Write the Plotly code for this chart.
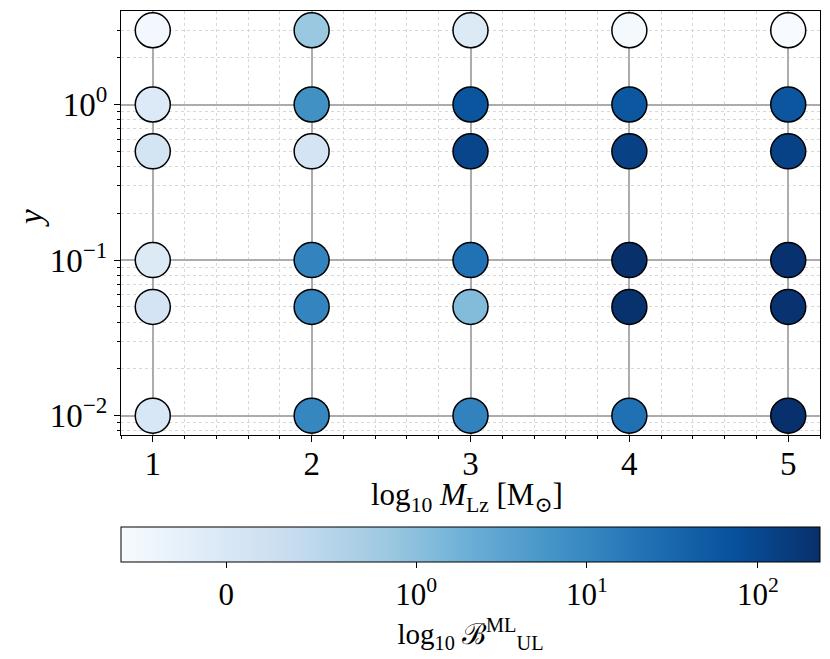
import numpy as np
import plotly.graph_objects as go

# grid of the scan
m_lz = [1, 2, 3, 4, 5]
y_vals = [0.01, 0.05, 0.1, 0.5, 1, 3]

# log10 Bayes factor per column of m_lz, ordered like y_vals
bayes = {
    1: [0.03, 0.10, -0.06, 0.12, -0.05, -0.48],
    2: [10.5, 11.0, 11.5, 0.10, 7.1, 0.86],
    3: [12.1, 1.19, 22.0, 110.0, 62.0, -0.06],
    4: [23.0, 213.0, 231.0, 128.0, 58.0, -0.50],
    5: [228.0, 205.0, 212.0, 121.0, 60.0, -0.554],
}

cbar_tick_vals = [0, 1, 10, 100]
cbar_tick_text = ["0", "10<sup>0</sup>", "10<sup>1</sup>", "10<sup>2</sup>"]
y_tick_vals = [0.01, 0.1, 1]
y_tick_text = ["10<sup>\u22122</sup>", "10<sup>\u22121</sup>", "10<sup>0</sup>"]

# matplotlib Blues
blues = ["#f7fbff", "#deebf7", "#c6dbef", "#9ecae1", "#6baed6",
         "#4292c6", "#2171b5", "#08519c", "#08306b"]
colorscale = [[i / (len(blues) - 1), c] for i, c in enumerate(blues)]


def symlog(v, linthresh=1.0, linscale=1.0):
    """Same mapping as matplotlib's SymLogNorm (base 10)."""
    v = np.asarray(v, dtype=float)
    lin_adj = linscale / (1.0 - 0.1)
    a = np.abs(v)
    out = np.where(a <= linthresh, v * lin_adj / linthresh,
                   np.sign(v) * (lin_adj + np.log10(np.maximum(a, 1e-300) / linthresh)))
    return out * linthresh


xs, ys, bs = [], [], []
for m in m_lz:
    for yv, b in zip(y_vals, bayes[m]):
        xs.append(m)
        ys.append(yv)
        bs.append(b)

cvals = symlog(bs)
cmin = float(symlog(min(bs)))
cmax = float(symlog(max(bs)))

font = "Liberation Serif, DejaVu Serif, serif"
# the page body keeps its default 8px margin, so the figure is drawn 8px smaller
# and every margin on the top/left is reduced by the same amount
PAD = 8
W, H = 830 - PAD, 659 - PAD
TICK_SIZE = 33
TITLE_SIZE = 31

fig = go.Figure()
fig.add_trace(go.Scatter(
    x=xs,
    y=ys,
    mode="markers",
    marker=dict(
        size=35,
        color=cvals,
        colorscale=colorscale,
        cmin=cmin,
        cmax=cmax,
        line=dict(color="black", width=1.5),
        colorbar=dict(
            orientation="h",
            x=0.5,
            xanchor="center",
            len=1.0,
            lenmode="fraction",
            y=(435 - 527) / 424,
            yanchor="top",
            ypad=0,
            xpad=0,
            thickness=35,
            outlinecolor="black",
            outlinewidth=1,
            tickmode="array",
            tickvals=symlog(cbar_tick_vals).tolist(),
            ticktext=cbar_tick_text,
            ticks="outside",
            ticklen=6,
            tickcolor="black",
            tickfont=dict(family=font, size=31, color="black"),
            title=dict(
                text="log<sub>10</sub> \u212c<sup>ML</sup><sub>UL</sub>",
                side="bottom",
                font=dict(family=font, size=29, color="black"),
            ),
        ),
    ),
    showlegend=False,
))

minor_y = [k * 10.0 ** e for e in (-3, -2, -1, 0) for k in range(2, 10)]

axis_common = dict(
    ticks="outside",
    ticklen=6,
    tickcolor="black",
    showline=True,
    mirror=True,
    linecolor="black",
    linewidth=1.2,
    showgrid=True,
    gridcolor="#acacac",
    gridwidth=1.5,
    zeroline=False,
    automargin=False,
    tickfont=dict(family=font, size=TICK_SIZE, color="black"),
)

fig.update_layout(
    width=W,
    height=H,
    margin=dict(l=121 - PAD, r=10, t=11 - PAD, b=224),
    paper_bgcolor="white",
    plot_bgcolor="white",
    font=dict(family=font, size=TITLE_SIZE, color="black"),
    xaxis=dict(
        range=[0.8, 5.2],
        tickmode="array",
        tickvals=m_lz,
        ticklabelstandoff=-7,
        minor=dict(dtick=0.2, ticks="outside", ticklen=3, tickcolor="black",
                   showgrid=True, gridcolor="#d8d8d8", gridwidth=0.8, griddash="dot"),
        **axis_common,
    ),
    yaxis=dict(
        type="log",
        range=[-2.124, 0.601],
        tickmode="array",
        tickvals=y_tick_vals,
        ticktext=y_tick_text,
        minor=dict(tickmode="array", tickvals=minor_y, ticks="outside", ticklen=3,
                   tickcolor="black", showgrid=True, gridcolor="#d8d8d8",
                   gridwidth=0.8, griddash="dot"),
        **axis_common,
    ),
    annotations=[
        dict(text="log<sub>10</sub> <i>M</i><sub>Lz</sub> [M<sub>\u2299</sub>]",
             xref="paper", yref="paper", x=0.495, y=(435 - 497) / 424,
             xanchor="center", yanchor="middle", showarrow=False,
             font=dict(family=font, size=TITLE_SIZE, color="black")),
        dict(text="<i>y</i>", textangle=-90,
             xref="paper", yref="paper", x=(31 - 121) / 699, y=(435 - 218) / 424,
             xanchor="center", yanchor="middle", showarrow=False,
             font=dict(family=font, size=TICK_SIZE, color="black")),
    ],
)

fig.write_html("out.html")
